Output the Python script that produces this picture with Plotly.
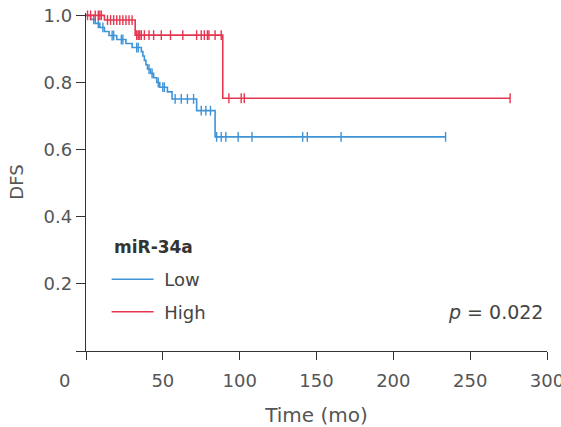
import numpy as np
import plotly.graph_objects as go

# ---- data ----
low_t = [0, 3, 6, 9, 12, 15, 20, 26, 30, 36, 37, 38, 39, 40, 42, 44, 46, 48, 53, 56, 72, 84]
low_s = [1.0, 0.988, 0.976, 0.964, 0.952, 0.940, 0.928, 0.916, 0.904, 0.892, 0.879, 0.866,
         0.853, 0.840, 0.827, 0.814, 0.800, 0.786, 0.772, 0.751, 0.716, 0.638]
low_end = 234
low_cens = [5, 8, 11, 17, 18, 23, 24, 33, 34, 41, 43, 47, 50, 51, 58, 62, 66, 70, 75, 78, 81,
            85, 88, 91, 99, 108, 141, 144, 166, 234]

high_t = [0, 12, 32, 89]
high_s = [1.0, 0.986, 0.941, 0.753]
high_end = 276
high_cens = [1, 3, 6, 8, 9, 10, 14, 16, 18, 20, 22, 24, 26, 28, 30, 33, 34, 35, 36, 38, 41, 44,
             49, 55, 63, 72, 75, 77, 79, 80, 84, 88, 93, 101, 103, 276]

group_names = ["Low", "High"]
xticks = [0, 50, 100, 150, 200, 250, 300]
yticks = [0, 0.2, 0.4, 0.6, 0.8, 1.0]

BLUE = "#3f93d6"
RED = "#e5364f"


def step_value(ts, ss, t):
    idx = np.searchsorted(np.array(ts), t, side="right") - 1
    return ss[max(idx, 0)]


fig = go.Figure()

for name, ts, ss, end, cens, col in [
    (group_names[0], low_t, low_s, low_end, low_cens, BLUE),
    (group_names[1], high_t, high_s, high_end, high_cens, RED),
]:
    xs = list(ts) + [end]
    ys = list(ss) + [ss[-1]]
    fig.add_trace(go.Scatter(x=xs, y=ys, mode="lines", line=dict(shape="hv", color=col, width=1.6),
                             name=" " + name, legendgroup=name, cliponaxis=False))
    fig.add_trace(go.Scatter(x=cens, y=[step_value(ts, ss, c) for c in cens], mode="markers",
                             marker=dict(symbol="line-ns", size=7, line=dict(color=col, width=1.4)),
                             showlegend=False, legendgroup=name, cliponaxis=False))

axis_font = dict(family="DejaVu Sans", size=18, color="#555555")

fig.update_layout(
    width=561, height=427,
    margin=dict(l=86, r=14, t=13, b=76, autoexpand=False),
    paper_bgcolor="white", plot_bgcolor="white",
    showlegend=True,
    legend=dict(
        x=0.0447, y=0.266, xanchor="left", yanchor="top",
        font=dict(family="DejaVu Sans", size=18, color="#444444"),
        bgcolor="rgba(0,0,0,0)", tracegroupgap=6, itemwidth=42,
    ),
    xaxis=dict(range=[0, 300], tickvals=xticks, ticktext=[""] + [str(v) for v in xticks[1:]],
               showline=True, linecolor="#333333", linewidth=1.3, ticks="outside", ticklen=8,
               tickwidth=1.3, tickcolor="#333333", showgrid=False, zeroline=False,
               automargin=False,
               tickfont=axis_font, ticklabeloverflow="allow", ticklabelstandoff=5,
               title=dict(text="Time (mo)", standoff=19,
                          font=dict(family="DejaVu Sans", size=20, color="#555555"))),
    yaxis=dict(range=[0, 1.007], tickvals=yticks,
               ticktext=[""] + ["%.1f" % v for v in yticks[1:]],
               showline=True, linecolor="#333333", linewidth=1.3, ticks="outside", ticklen=9,
               tickwidth=1.3, tickcolor="#333333", showgrid=False, zeroline=False,
               automargin=False,
               tickfont=axis_font,
               title=dict(text="DFS", font=dict(family="DejaVu Sans", size=18, color="#555555"))),
    annotations=[
        dict(text="0", x=-0.0625, xref="paper", y=0, yref="paper", yshift=-29, yanchor="middle",
             showarrow=False, font=axis_font),
        dict(text="<b>miR-34a</b>", x=0.0557, xref="paper", y=0.3077, yref="paper",
             xanchor="left", yanchor="middle", showarrow=False,
             font=dict(family="DejaVu Sans", size=17, color="#333333")),
        dict(text="<i>p</i> = 0.022", x=0.996, xref="paper", y=0.116, yref="paper",
             xanchor="right", yanchor="middle", showarrow=False,
             font=dict(family="DejaVu Sans", size=19, color="#444444")),
    ],
)

fig.write_html("out.html")
